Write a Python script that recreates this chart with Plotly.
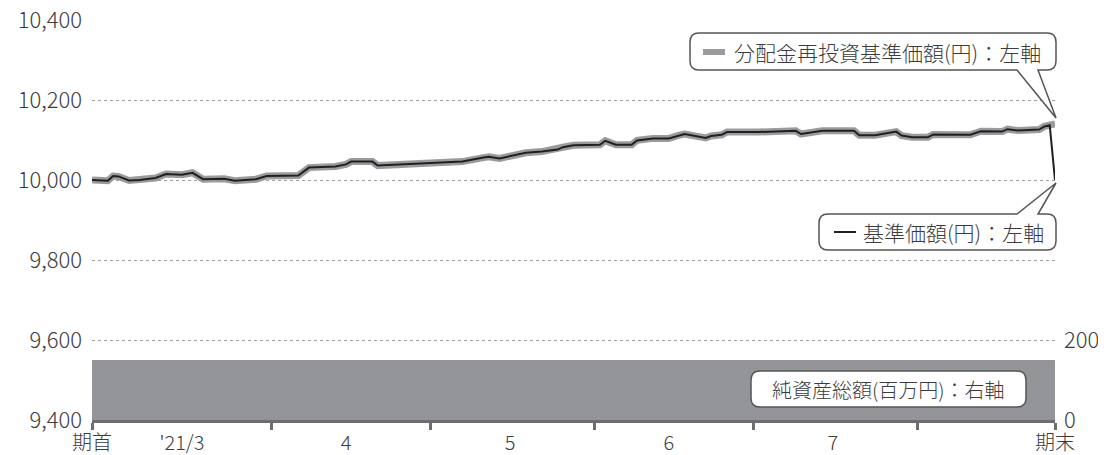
import plotly.graph_objects as go

# ---------------- data ----------------
dates = [
    "2021-02-26", "2021-03-01", "2021-03-02", "2021-03-03", "2021-03-05", "2021-03-07",
    "2021-03-10", "2021-03-12", "2021-03-15", "2021-03-17", "2021-03-19", "2021-03-23",
    "2021-03-25", "2021-03-29", "2021-03-31", "2021-04-06", "2021-04-08", "2021-04-13",
    "2021-04-15", "2021-04-16", "2021-04-20", "2021-04-21", "2021-04-24", "2021-05-02",
    "2021-05-07", "2021-05-11", "2021-05-12", "2021-05-14", "2021-05-19", "2021-05-22",
    "2021-05-25", "2021-05-26", "2021-05-28", "2021-06-02", "2021-06-03", "2021-06-05",
    "2021-06-08", "2021-06-09", "2021-06-12", "2021-06-15", "2021-06-17", "2021-06-18",
    "2021-06-22", "2021-06-23", "2021-06-25", "2021-06-26", "2021-07-02", "2021-07-09",
    "2021-07-10", "2021-07-14", "2021-07-20", "2021-07-21", "2021-07-24", "2021-07-28",
    "2021-07-29", "2021-07-31", "2021-08-03", "2021-08-04", "2021-08-11", "2021-08-13",
    "2021-08-17", "2021-08-18", "2021-08-20", "2021-08-24", "2021-08-25", "2021-08-26",
    "2021-08-27",
]
nav_reinvest = [
    10000, 9998, 10010, 10009, 9999, 10000,
    10005, 10015, 10013, 10018, 10002, 10003,
    9998, 10002, 10010, 10011, 10031, 10034,
    10039, 10046, 10046, 10036, 10038, 10042,
    10046, 10056, 10058, 10054, 10068, 10071,
    10076, 10082, 10087, 10088, 10098, 10088,
    10088, 10099, 10104, 10104, 10112, 10115,
    10105, 10110, 10113, 10120, 10120, 10123,
    10115, 10123, 10123, 10112, 10112, 10121,
    10111, 10107, 10107, 10114, 10113, 10122,
    10121, 10127, 10124, 10126, 10134, 10137,
    10140,
]
nav = [
    10000, 9998, 10010, 10009, 9999, 10000,
    10005, 10015, 10013, 10018, 10002, 10003,
    9998, 10002, 10010, 10011, 10031, 10034,
    10039, 10046, 10046, 10036, 10038, 10042,
    10046, 10056, 10058, 10054, 10068, 10071,
    10076, 10082, 10087, 10088, 10098, 10088,
    10088, 10099, 10104, 10104, 10112, 10115,
    10105, 10110, 10113, 10120, 10120, 10123,
    10115, 10123, 10123, 10112, 10112, 10121,
    10111, 10107, 10107, 10114, 10113, 10122,
    10121, 10127, 10124, 10126, 10134, 10137,
    10000,
]

asset_dates = ["2021-02-26", "2021-03-31", "2021-04-30", "2021-05-31",
               "2021-06-30", "2021-07-31", "2021-08-27"]
net_assets = [150, 150, 150, 150, 150, 150, 150]

x_range = ["2021-02-26", "2021-08-27"]
x_label_vals = ["2021-02-26", "2021-03-15", "2021-04-15", "2021-05-16",
                "2021-06-15", "2021-07-16", "2021-08-27"]
x_label_text = ["期首", "'21/3", "4", "5", "6", "7", "期末"]
x_tick_marks = ["2021-02-26", "2021-04-01", "2021-05-01", "2021-06-01",
                "2021-07-01", "2021-08-01", "2021-08-27"]
left_ticks = [9400, 9600, 9800, 10000, 10200, 10400]
right_ticks = [0, 200]

label_reinvest = "分配金再投資基準価額(円)：左軸"
label_nav = "基準価額(円)：左軸"
label_assets = "純資産総額(百万円)：右軸"

# ---------------- style ----------------
FONT = "Noto Sans CJK JP"
TXT = "#3c3c3c"
GRAY_LINE = "#9a9b9e"
BLACK = "#231f20"
AREA = "#939598"
AXIS = "#6d6e71"
OFF = 8                      # page body margin
PL, PT, PW, PH = 92, 20, 963, 400   # plot area in screen pixels
W, H = 1106 - OFF, 455 - OFF
ML, MT = PL - OFF, PT - OFF
MR, MB = W - ML - PW, H - MT - PH


def px(x):
    return (x - PL) / PW


def py(y):
    return 1 - (y - PT) / PH


def f(size):
    return dict(family=FONT, size=size, color=TXT, weight=300)


fig = go.Figure()

fig.add_trace(go.Scatter(
    x=asset_dates, y=net_assets, xaxis="x2", yaxis="y2",
    mode="lines", line=dict(width=0, color=AREA), fill="tozeroy",
    fillcolor=AREA, hoverinfo="skip", showlegend=False))

fig.add_trace(go.Scatter(
    x=dates, y=nav_reinvest, mode="lines",
    line=dict(color=GRAY_LINE, width=7), showlegend=False))
fig.add_trace(go.Scatter(
    x=dates, y=nav, mode="lines",
    line=dict(color=BLACK, width=2), showlegend=False))

fig.update_layout(
    width=W, height=H,
    margin=dict(l=ML, r=MR, t=MT, b=MB, autoexpand=False),
    paper_bgcolor="white", plot_bgcolor="white",
    font=dict(family=FONT, color=TXT),
    xaxis=dict(
        type="date", range=x_range, tickmode="array", tickvals=x_tick_marks,
        showticklabels=False, ticks="outside", ticklen=7, tickwidth=3,
        tickcolor=AXIS, showline=True, linecolor=AXIS, linewidth=3,
        showgrid=False, zeroline=False, automargin=False),
    xaxis2=dict(
        type="date", range=x_range, overlaying="x", anchor="y", side="bottom",
        tickmode="array", tickvals=x_label_vals, ticktext=x_label_text,
        ticks="", showline=False, showgrid=False, zeroline=False,
        tickfont=f(20), ticklabelstandoff=9, automargin=False,
        ticklabeloverflow="allow"),
    yaxis=dict(
        range=[9400, 10400], tickmode="array", tickvals=left_ticks,
        tickformat=",d", tickfont=f(22), showgrid=True,
        gridcolor="#9d9d9d", griddash="dot", gridwidth=1,
        zeroline=False, showline=False, ticks="", ticklabelstandoff=9,
        automargin=False, ticklabeloverflow="allow"),
    yaxis2=dict(
        range=[0, 1000], overlaying="y", side="right", anchor="x",
        tickmode="array", tickvals=right_ticks, tickfont=f(22),
        showgrid=False, zeroline=False, showline=False, ticks="",
        ticklabelstandoff=8, automargin=False, ticklabeloverflow="allow"),
)

shapes = []
annotations = []


def callout(x0, x1, y0, y1, r, gap, tip, side):
    gx0, gx1 = gap
    tx, ty = tip
    P = lambda x, y: f"{px(x):.5f},{py(y):.5f}"
    d = f"M {P(x0 + r, y0)} "
    if side == "top":
        d += f"L {P(gx0, y0)} L {P(tx, ty)} L {P(gx1, y0)} "
    d += f"L {P(x1 - r, y0)} Q {P(x1, y0)} {P(x1, y0 + r)} "
    d += f"L {P(x1, y1 - r)} Q {P(x1, y1)} {P(x1 - r, y1)} "
    if side == "bottom":
        d += f"L {P(gx1, y1)} L {P(tx, ty)} L {P(gx0, y1)} "
    d += f"L {P(x0 + r, y1)} Q {P(x0, y1)} {P(x0, y1 - r)} "
    d += f"L {P(x0, y0 + r)} Q {P(x0, y0)} {P(x0 + r, y0)} Z"
    shapes.append(dict(type="path", path=d, xref="paper", yref="paper",
                       line=dict(color="#555555", width=1.5),
                       fillcolor="white", layer="above"))


# callout 1: reinvested NAV
callout(690, 1056, 33, 70, 9, (1017, 1038), (1056, 118), "bottom")
shapes.append(dict(type="line", xref="paper", yref="paper",
                   x0=px(703), x1=px(725), y0=py(52), y1=py(52),
                   line=dict(color=GRAY_LINE, width=6), layer="above"))
annotations.append(dict(text=label_reinvest, x=px(732), y=py(52),
                        xref="paper", yref="paper", xanchor="left",
                        yanchor="middle", showarrow=False, font=f(21)))

# callout 2: NAV
callout(819, 1056, 214, 250, 9, (1017, 1038), (1056, 183), "top")
shapes.append(dict(type="line", xref="paper", yref="paper",
                   x0=px(834), x1=px(856), y0=py(232), y1=py(232),
                   line=dict(color=BLACK, width=2), layer="above"))
annotations.append(dict(text=label_nav, x=px(861), y=py(232),
                        xref="paper", yref="paper", xanchor="left",
                        yanchor="middle", showarrow=False, font=f(21)))

# callout 3: net assets
callout(751, 1026, 371, 407, 9, (0, 0), (0, 0), "none")
annotations.append(dict(text=label_assets, x=px(888), y=py(389),
                        xref="paper", yref="paper", xanchor="center",
                        yanchor="middle", showarrow=False, font=f(20)))

fig.update_layout(shapes=shapes, annotations=annotations)
fig.write_html("out.html")
